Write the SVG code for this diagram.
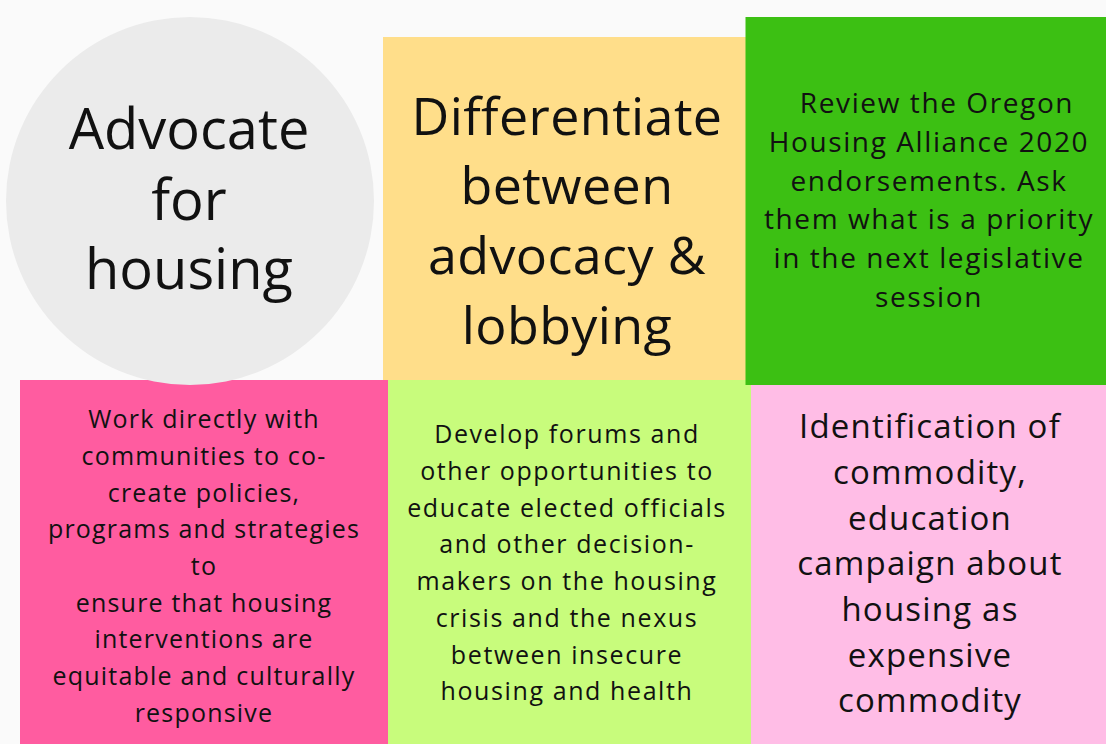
<svg xmlns="http://www.w3.org/2000/svg" width="1106" height="744" viewBox="0 0 1106 744">
<style>
text{font-family:"Open Sans","Liberation Sans",sans-serif;fill:#111;text-anchor:middle}
.c{font-size:56px}
.y{font-size:52px;letter-spacing:0.4px}
.g{font-size:28px;letter-spacing:1.6px}
.p{font-size:25px;letter-spacing:1.2px}
.l{font-size:25px;letter-spacing:1.6px}
.r{font-size:33px;letter-spacing:1.2px}
</style>
<rect width="1106" height="744" fill="#fafafa"/>
<g id="yellow">
<rect x="383" y="37" width="363" height="348" fill="#ffde8a"/>
<text class="y"><tspan x="567" y="135">Differentiate</tspan><tspan x="567" y="204">between</tspan><tspan x="567" y="274">advocacy &amp;</tspan><tspan x="567" y="344">lobbying</tspan></text>
</g>
<g id="pink-left">
<rect x="20" y="380" width="369" height="364" fill="#ff5ca0"/>
<text class="p"><tspan x="204" y="428">Work directly with</tspan><tspan x="204" y="465">communities to co-</tspan><tspan x="204" y="502">create policies,</tspan><tspan x="204" y="538">programs and strategies</tspan><tspan x="204" y="575">to</tspan><tspan x="204" y="612">ensure that housing</tspan><tspan x="204" y="648">interventions are</tspan><tspan x="204" y="685">equitable and culturally</tspan><tspan x="204" y="722">responsive</tspan></text>
</g>
<g id="lime">
<rect x="388" y="380" width="363" height="364" fill="#c8fc7c"/>
<text class="l"><tspan x="567" y="443">Develop forums and</tspan><tspan x="567" y="480">other opportunities to</tspan><tspan x="567" y="517">educate elected officials</tspan><tspan x="567" y="553">and other decision-</tspan><tspan x="567" y="590">makers on the housing</tspan><tspan x="567" y="627">crisis and the nexus</tspan><tspan x="567" y="664">between insecure</tspan><tspan x="567" y="700">housing and health</tspan></text>
</g>
<g id="pink-right">
<rect x="751" y="380" width="355" height="364" fill="#ffbde6"/>
<text class="r"><tspan x="930" y="438">Identification of</tspan><tspan x="930" y="484">commodity,</tspan><tspan x="930" y="530">education</tspan><tspan x="930" y="575">campaign about</tspan><tspan x="930" y="621">housing as</tspan><tspan x="930" y="667">expensive</tspan><tspan x="930" y="712">commodity</tspan></text>
</g>
<g id="green">
<rect x="745.5" y="17" width="361" height="368" fill="#3cc013"/>
<text class="g"><tspan x="937" y="113">Review the Oregon</tspan><tspan x="929" y="152">Housing Alliance 2020</tspan><tspan x="929" y="191">endorsements. Ask</tspan><tspan x="929" y="229">them what is a priority</tspan><tspan x="929" y="268">in the next legislative</tspan><tspan x="929" y="307">session</tspan></text>
</g>
<g id="circle">
<circle cx="190" cy="201" r="184" fill="#ebebeb"/>
<text class="c"><tspan x="189" y="149">Advocate</tspan><tspan x="189" y="220">for</tspan><tspan x="189" y="289">housing</tspan></text>
</g>
<g id="connectors"/>
</svg>
